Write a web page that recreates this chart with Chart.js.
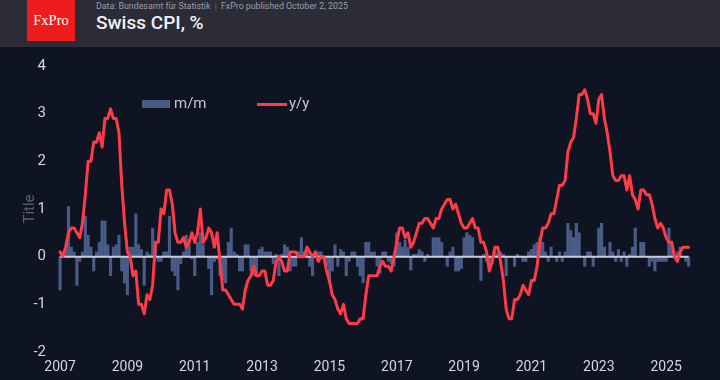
<!DOCTYPE html>
<html>
<head>
<meta charset="utf-8">
<script src="https://cdn.jsdelivr.net/npm/chart.js@4.4.1/dist/chart.umd.min.js"></script>
<style>
  html, body { margin: 0; padding: 0; }
  body { width: 720px; height: 380px; background: #0e1422; position: relative; overflow: hidden; font-family: Roboto, "Noto Sans", sans-serif; }
  #hdr { position: absolute; left: 0; top: 0; width: 720px; height: 47px; background: #2b2c38; border-bottom: 1px solid #15161c; }
  .logo { position: absolute; left: 27px; top: 0; width: 48px; height: 41px; background: #ee1c1c; color: #fff;
          font-family: "Liberation Serif", "DejaVu Serif", serif; font-size: 14.5px; line-height: 41px; text-align: center; }
  .src { position: absolute; left: 96px; top: 2px; font-size: 8.8px; line-height: 8.8px; color: #9c9ea8; white-space: nowrap; }
  .src .sep { color: #6a6c76; padding: 0 2px; }
  .ttl { position: absolute; left: 96px; top: 13px; font-size: 19px; line-height: 19px; font-weight: 500; color: #f2f2f4; white-space: nowrap; }
  #wrap { position: absolute; left: 0; top: 48px; width: 720px; height: 332px; }
  .lg { position: absolute; top: 94px; font-size: 15px; line-height: 18px; color: #c4c8d0; white-space: nowrap; }
  .lg i { display: inline-block; vertical-align: middle; margin-right: 4px; }
</style>
</head>
<body>
<div id="hdr">
  <div class="logo">FxPro</div>
  <div class="src">Data: Bundesamt für Statistik <span class="sep">|</span> FxPro published October 2, 2025</div>
  <div class="ttl">Swiss CPI, %</div>
</div>
<div id="wrap"><canvas id="chart" width="720" height="332"></canvas></div>
<div id="legend"></div>
<script>
// Swiss CPI, monthly from Jan 2007 to Sep 2025
const startYear = 2007;

// m/m, % (one row per year)
const momValues = [
  -0.7, 0.1, 0.15, 1.05, 0.2, 0.1, -0.6, -0.1, 0.1, 0.85, 0.45, 0.2,
  -0.3, 0.1, 0.3, 0.75, 0.75, 0.25, -0.4, 0.2, 0.25, 0.45, -0.3, -0.55,
  -0.8, 0.2, 0.2, 0.9, 0.25, 0.15, -0.6, 0.1, 0.05, 0.6, 0.25, -0.1,
  -0.1, 0.1, 0.1, 0.85, -0.3, -0.4, -0.7, -0.15, 0.1, 0.45, 0.25, -0.05,
  -0.4, 0.3, 0.5, 0.25, 0.0, -0.25, -0.8, -0.1, -0.05, -0.4, -0.5, -0.55,
  0.3, 0.6, 0.1, 0.05, -0.3, -0.3, 0.25, 0.25, -0.3, -0.4, -0.35, 0.15,
  0.2, 0.1, 0.1, 0.1, -0.15, 0.05, -0.4, 0.05, 0.25, 0.2, -0.3, -0.2,
  -0.2, 0.1, 0.4, 0.1, 0.15, -0.2, -0.4, 0.05, 0.1, 0.1, -0.05, -0.2,
  -0.55, -0.3, 0.25, -0.2, 0.15, 0.1, -0.4, -0.1, 0.1, 0.1, -0.2, -0.4,
  -0.55, 0.3, 0.3, 0.1, 0.1, -0.2, -0.35, 0.1, 0.1, -0.1, -0.15, -0.2,
  0.5, 0.3, 0.2, 0.35, 0.2, -0.28, 0.05, 0.05, 0.15, 0.1, -0.1, 0.05,
  0.0, 0.4, 0.4, 0.4, 0.3, 0.0, -0.2, 0.1, 0.2, -0.3, -0.3, -0.25,
  0.4, 0.5, 0.45, 0.4, 0.0, 0.0, -0.5, 0.05, -0.1, -0.2, -0.15, 0.1,
  0.05, 0.1, 0.05, -0.4, 0.0, 0.0, -0.2, 0.05, 0.0, -0.1, -0.1, 0.1,
  0.15, 0.25, 0.3, 0.4, 0.3, 0.1, -0.1, 0.2, 0.0, -0.1, 0.1, -0.1,
  0.1, 0.7, 0.55, 0.4, 0.7, 0.5, 0.0, -0.2, 0.1, 0.1, -0.2, 0.0,
  0.6, 0.7, 0.2, 0.0, 0.3, 0.1, -0.1, 0.15, -0.1, 0.1, -0.2, 0.05,
  0.2, 0.6, 0.0, 0.3, 0.3, 0.0, -0.2, -0.1, -0.3, -0.1, -0.1, -0.1,
  -0.1, 0.6, 0.25, 0.0, 0.1, 0.2, 0.0, -0.1, -0.2
];

// y/y, % (one row per year)
const yoyValues = [
  0.1, 0.0, 0.2, 0.5, 0.6, 0.6, 0.5, 0.4, 0.7, 1.3, 2.0, 2.0,
  2.4, 2.4, 2.6, 2.3, 2.9, 2.9, 3.1, 2.9, 2.9, 2.6, 1.5, 0.7,
  0.1, 0.0, -0.4, -0.3, -1.0, -1.0, -1.2, -0.8, -0.9, -0.6, 0.3, 0.3,
  1.0, 0.9, 1.4, 1.4, 1.1, 0.5, 0.3, 0.3, 0.4, 0.2, 0.3, 0.5,
  0.3, 0.5, 1.0, 0.3, 0.4, 0.6, 0.5, 0.2, 0.5, -0.1, -0.7, -0.7,
  -0.8, -0.9, -1.0, -1.0, -1.0, -1.1, -0.7, -0.5, -0.4, -0.2, -0.4, -0.4,
  -0.3, -0.3, -0.6, -0.6, -0.5, -0.1, 0.0, -0.1, -0.3, -0.3, 0.1, 0.1,
  0.1, 0.0, 0.0, 0.0, 0.2, 0.1, 0.0, 0.1, -0.1, 0.0, 0.0, -0.3,
  -0.5, -0.8, -0.9, -1.1, -1.2, -1.0, -1.3, -1.4, -1.4, -1.4, -1.4, -1.3,
  -1.3, -0.8, -0.4, -0.4, -0.4, -0.4, -0.2, -0.1, -0.2, -0.2, -0.3, 0.0,
  0.3, 0.6, 0.6, 0.4, 0.5, 0.2, 0.3, 0.5, 0.7, 0.7, 0.8, 0.8,
  0.7, 0.6, 0.8, 0.8, 1.0, 1.1, 1.2, 1.2, 1.0, 1.1, 0.9, 0.7,
  0.6, 0.6, 0.7, 0.8, 0.6, 0.6, 0.3, 0.3, 0.1, -0.3, -0.1, 0.2,
  0.2, -0.1, -0.5, -1.1, -1.3, -1.3, -0.9, -0.9, -0.8, -0.6, -0.7, -0.8,
  -0.5, -0.5, -0.2, 0.3, 0.6, 0.6, 0.7, 0.9, 0.9, 1.2, 1.5, 1.5,
  1.6, 2.2, 2.4, 2.5, 2.9, 3.4, 3.4, 3.5, 3.3, 3.0, 3.0, 2.8,
  3.3, 3.4, 2.9, 2.6, 2.2, 1.7, 1.6, 1.6, 1.7, 1.7, 1.4, 1.7,
  1.3, 1.2, 1.0, 1.4, 1.4, 1.3, 1.3, 1.1, 0.8, 0.6, 0.7, 0.6,
  0.4, 0.3, 0.3, 0.0, -0.1, 0.1, 0.2, 0.2, 0.2
];

const yearTicks = [2007, 2009, 2011, 2013, 2015, 2017, 2019, 2021, 2023, 2025];
const yTicks = [-2, -1, 0, 1, 2, 3, 4];

const seriesLabels = { mom: 'm/m', yoy: 'y/y' };
const barColor = '#4b5b88';
const lineColor = '#ff3b47';
const zeroColor = '#c9ced8';

// month positions as fractional years
const months = momValues.map((_, i) => startYear + i / 12);
const momPoints = months.map((x, i) => ({ x, y: momValues[i] }));
const yoyPoints = months.map((x, i) => ({ x, y: yoyValues[i] }));
const zeroLine = [{ x: months[0], y: 0 }, { x: months[months.length - 1], y: 0 }];

const ctx = document.getElementById('chart').getContext('2d');
new Chart(ctx, {
  type: 'bar',
  data: {
    datasets: [
      { type: 'line', label: seriesLabels.yoy, data: yoyPoints, borderColor: lineColor, borderWidth: 3,
        pointRadius: 0, tension: 0, borderJoinStyle: 'round', borderCapStyle: 'round', order: 0 },
      { type: 'line', label: 'zero', data: zeroLine, borderColor: zeroColor, borderWidth: 2,
        pointRadius: 0, order: 1 },
      { type: 'bar', label: seriesLabels.mom, data: momPoints, backgroundColor: barColor,
        barThickness: 2.5, order: 2 }
    ]
  },
  options: {
    responsive: false,
    animation: false,
    layout: { padding: { top: 18, right: 0, bottom: 0, left: 0 } },
    plugins: { legend: { display: false }, tooltip: { enabled: false } },
    scales: {
      x: {
        type: 'linear', min: 2006.85, max: 2026.6, offset: false,
        grid: { display: false, drawTicks: false }, border: { display: false },
        afterBuildTicks: s => { s.ticks = yearTicks.map(v => ({ value: v })); },
        afterFit: s => { s.height = 28; },
        ticks: { autoSkip: false, maxRotation: 0, padding: 7, color: '#d4d7de',
                 font: { family: 'Roboto', size: 14 }, callback: v => String(v) }
      },
      y: {
        min: -2, max: 4,
        grid: { display: false, drawTicks: false }, border: { display: false },
        afterBuildTicks: s => { s.ticks = yTicks.map(v => ({ value: v })); },
        afterFit: s => { s.width = 55; },
        ticks: { padding: 9, color: '#d4d7de', font: { family: 'Roboto', size: 15 } },
        title: { display: true, text: 'Title', color: '#5c616c', font: { family: 'Roboto', size: 15 },
                 padding: { top: 21, bottom: 0 } }
      }
    }
  }
});

// legend sits inside the plot, drawn as html
const legend = document.getElementById('legend');
legend.innerHTML =
  `<div class="lg" style="left:142px"><i style="width:28px;height:8px;background:${barColor}"></i>${seriesLabels.mom}</div>` +
  `<div class="lg" style="left:257px"><i style="width:30px;height:3px;background:${lineColor};margin-right:2px"></i>${seriesLabels.yoy}</div>`;
</script>
</body>
</html>
